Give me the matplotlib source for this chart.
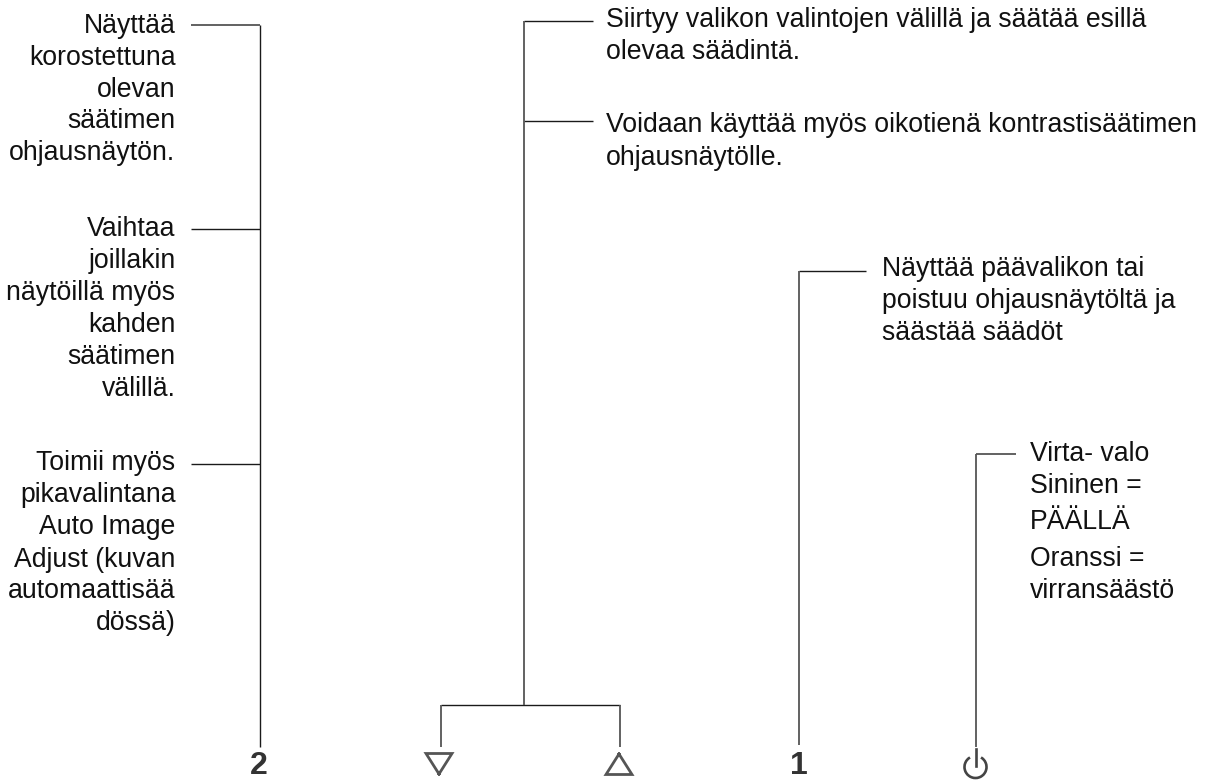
import matplotlib
matplotlib.use("Agg")
import matplotlib.pyplot as plt
from matplotlib.patches import Arc

plt.rcParams['font.family'] = ['Liberation Sans', 'DejaVu Sans']

W = 1208
H = 781
text_size = 19.2

# text blocks: lines with their baselines
left_x = 175.5
left_lines = ["Näyttää", "korostettuna", "olevan", "säätimen", "ohjausnäytön.",
              "Vaihtaa", "joillakin", "näytöillä myös", "kahden", "säätimen", "välillä.",
              "Toimii myös", "pikavalintana", "Auto Image", "Adjust (kuvan", "automaattisää", "dössä)"]
left_y = [33, 65, 97, 128, 160,
          236, 268, 300, 332, 364, 396,
          470, 502, 534, 567, 598, 630]

right_lines = ["Siirtyy valikon valintojen välillä ja säätää esillä", "olevaa säädintä.",
               "Voidaan käyttää myös oikotienä kontrastisäätimen", "ohjausnäytölle.",
               "Näyttää päävalikon tai", "poistuu ohjausnäytöltä ja", "säästää säädöt",
               "Virta- valo", "Sininen =", "PÄÄLLÄ", "Oranssi =", "virransäästö"]
right_x = [606, 606, 606, 606, 882, 882, 882, 1030, 1030, 1030, 1030, 1030]
right_y = [27, 59, 132, 165, 276, 308, 340, 461, 493, 529, 566, 598]

# leader lines: (x0, y0, x1, y1)
dark_lines = [
    (260, 25, 260, 747),
    (191, 229, 260, 229),
    (191, 464, 260, 464),
    (524, 21, 593, 21),
    (524, 121, 593, 121),
    (441, 705, 620, 705),
    (799, 271, 866, 271),
]
grey_lines = [
    (191, 25, 260, 25),
    (524, 21, 524, 705),
    (441, 705, 441, 747),
    (620, 705, 620, 747),
    (799, 271, 799, 745),
    (976, 454, 1016, 454),
    (976, 454, 976, 747),
]

fig = plt.figure(figsize=(W / 100, H / 100), dpi=100)
ax = fig.add_axes([0, 0, 1, 1])
ax.set_xlim(0, W)
ax.set_ylim(H, 0)
ax.axis('off')

for s, y in zip(left_lines, left_y):
    ax.text(left_x, y, s, ha='right', va='baseline', fontsize=text_size, color='#111111')
for s, x, y in zip(right_lines, right_x, right_y):
    ax.text(x, y, s, ha='left', va='baseline', fontsize=text_size, color='#111111')

for x0, y0, x1, y1 in dark_lines:
    ax.plot([x0, x1], [y0, y1], color='#1a1a1a', lw=1.0, solid_capstyle='butt')
for x0, y0, x1, y1 in grey_lines:
    ax.plot([x0, x1], [y0, y1], color='#555555', lw=1.3, solid_capstyle='butt')

# button icons
ax.text(259, 774, "2", ha='center', va='baseline', fontsize=23, fontweight='bold', color='#333333')
ax.text(799, 774, "1", ha='center', va='baseline', fontsize=23, fontweight='bold', color='#333333')
ax.plot([439, 452, 426, 439], [774, 753.5, 753.5, 774], color='#555555', lw=2.0, solid_joinstyle='miter')
ax.plot([619, 632, 606, 619], [754, 774.5, 774.5, 754], color='#555555', lw=2.0, solid_joinstyle='miter')
ax.add_patch(Arc((975.5, 767), 22, 22, theta1=-60, theta2=240, color='#444444', lw=1.9))
ax.plot([975.5, 975.5], [749, 766], color='#444444', lw=1.9)

fig.savefig("out.png", dpi=100)
